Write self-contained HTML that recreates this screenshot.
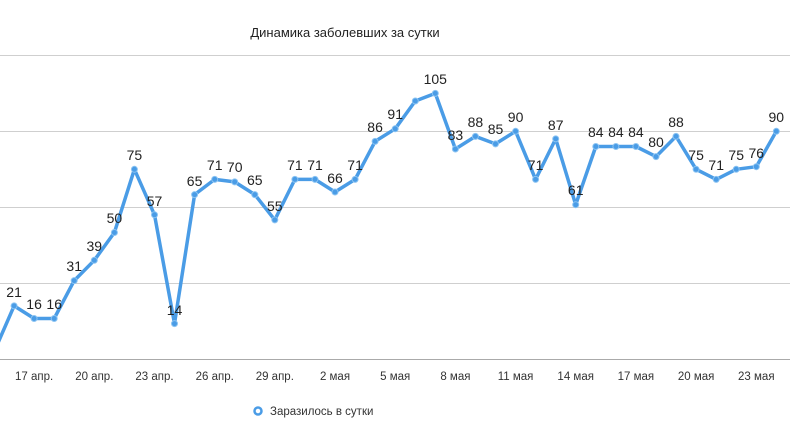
<!DOCTYPE html>
<html><head><meta charset="utf-8"><style>
html,body{margin:0;padding:0;background:#fff;width:796px;height:446px;overflow:hidden}
text{font-family:"Liberation Sans",sans-serif}
</style></head><body>
<svg width="796" height="446" viewBox="0 0 796 446" xmlns="http://www.w3.org/2000/svg">
<text x="345" y="37" font-size="13" fill="#222" text-anchor="middle">Динамика заболевших за сутки</text>
<g stroke="#cfcfcf" stroke-width="1">
<line x1="0" y1="55.5" x2="790" y2="55.5"/>
<line x1="0" y1="131.5" x2="790" y2="131.5"/>
<line x1="0" y1="207.5" x2="790" y2="207.5"/>
<line x1="0" y1="283.5" x2="790" y2="283.5"/>
</g>
<line x1="0" y1="359.5" x2="790" y2="359.5" stroke="#aaa" stroke-width="1"/>
<polyline fill="none" stroke="#4a9ce6" stroke-width="3.5" stroke-linejoin="round" points="-6,352 14.1,305.9 34.1,318.5 54.2,318.5 74.2,280.6 94.3,260.3 114.4,232.5 134.4,169.3 154.5,214.8 174.5,323.6 194.6,194.6 214.7,179.4 234.7,181.9 254.8,194.6 274.8,219.9 294.9,179.4 315,179.4 335,192 355.1,179.4 375.1,141.4 395.2,128.8 415.3,101 435.3,93.4 455.4,149 475.4,136.4 495.5,143.9 515.6,131.3 535.6,179.4 555.7,138.9 575.7,204.7 595.8,146.5 615.9,146.5 635.9,146.5 656,156.6 676,136.4 696.1,169.3 716.2,179.4 736.2,169.3 756.3,166.7 776.3,131.3"/>
<g fill="#4a9ce6" stroke="#8cc4f2" stroke-width="1">
<circle cx="14.1" cy="305.9" r="3"/><circle cx="34.1" cy="318.5" r="3"/><circle cx="54.2" cy="318.5" r="3"/><circle cx="74.2" cy="280.6" r="3"/><circle cx="94.3" cy="260.3" r="3"/><circle cx="114.4" cy="232.5" r="3"/><circle cx="134.4" cy="169.3" r="3"/><circle cx="154.5" cy="214.8" r="3"/><circle cx="174.5" cy="323.6" r="3"/><circle cx="194.6" cy="194.6" r="3"/><circle cx="214.7" cy="179.4" r="3"/><circle cx="234.7" cy="181.9" r="3"/><circle cx="254.8" cy="194.6" r="3"/><circle cx="274.8" cy="219.9" r="3"/><circle cx="294.9" cy="179.4" r="3"/><circle cx="315" cy="179.4" r="3"/><circle cx="335" cy="192" r="3"/><circle cx="355.1" cy="179.4" r="3"/><circle cx="375.1" cy="141.4" r="3"/><circle cx="395.2" cy="128.8" r="3"/><circle cx="415.3" cy="101" r="3"/><circle cx="435.3" cy="93.4" r="3"/><circle cx="455.4" cy="149" r="3"/><circle cx="475.4" cy="136.4" r="3"/><circle cx="495.5" cy="143.9" r="3"/><circle cx="515.6" cy="131.3" r="3"/><circle cx="535.6" cy="179.4" r="3"/><circle cx="555.7" cy="138.9" r="3"/><circle cx="575.7" cy="204.7" r="3"/><circle cx="595.8" cy="146.5" r="3"/><circle cx="615.9" cy="146.5" r="3"/><circle cx="635.9" cy="146.5" r="3"/><circle cx="656" cy="156.6" r="3"/><circle cx="676" cy="136.4" r="3"/><circle cx="696.1" cy="169.3" r="3"/><circle cx="716.2" cy="179.4" r="3"/><circle cx="736.2" cy="169.3" r="3"/><circle cx="756.3" cy="166.7" r="3"/><circle cx="776.3" cy="131.3" r="3"/>
</g>
<g font-size="14" fill="#222" text-anchor="middle">
<text x="14.1" y="297">21</text><text x="34.1" y="309">16</text><text x="54.2" y="309">16</text><text x="74.2" y="271">31</text><text x="94.3" y="251">39</text><text x="114.4" y="223">50</text><text x="134.4" y="160">75</text><text x="154.5" y="206">57</text><text x="174.5" y="315">14</text><text x="194.6" y="186">65</text><text x="214.7" y="170">71</text><text x="234.7" y="172">70</text><text x="254.8" y="185">65</text><text x="274.8" y="211">55</text><text x="294.9" y="170">71</text><text x="315" y="170">71</text><text x="335" y="183">66</text><text x="355.1" y="170">71</text><text x="375.1" y="132">86</text><text x="395.2" y="119">91</text><text x="435.3" y="84">105</text><text x="455.4" y="140">83</text><text x="475.4" y="127">88</text><text x="495.5" y="134">85</text><text x="515.6" y="122">90</text><text x="535.6" y="170">71</text><text x="555.7" y="130">87</text><text x="575.7" y="195">61</text><text x="595.8" y="137">84</text><text x="615.9" y="137">84</text><text x="635.9" y="137">84</text><text x="656" y="147">80</text><text x="676" y="127">88</text><text x="696.1" y="160">75</text><text x="716.2" y="170">71</text><text x="736.2" y="160">75</text><text x="756.3" y="158">76</text><text x="776.3" y="122">90</text>
</g>
<g font-size="11.5" fill="#333" text-anchor="middle">
<text x="34.1" y="380">17 апр.</text><text x="94.3" y="380">20 апр.</text><text x="154.5" y="380">23 апр.</text><text x="214.7" y="380">26 апр.</text><text x="274.8" y="380">29 апр.</text><text x="335" y="380">2 мая</text><text x="395.2" y="380">5 мая</text><text x="455.4" y="380">8 мая</text><text x="515.6" y="380">11 мая</text><text x="575.7" y="380">14 мая</text><text x="635.9" y="380">17 мая</text><text x="696.1" y="380">20 мая</text><text x="756.3" y="380">23 мая</text>
</g>
<circle cx="258" cy="411" r="3.5" fill="#fff" stroke="#4a9ce6" stroke-width="2.5"/>
<text x="270" y="415" font-size="11.5" fill="#333">Заразилось в сутки</text>
</svg>
</body></html>
